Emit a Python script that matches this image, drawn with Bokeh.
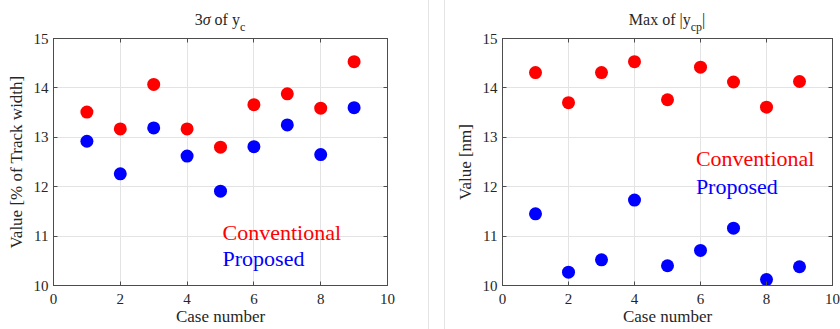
from bokeh.plotting import figure
from bokeh.models import Label, LinearAxis, Range1d, Div, FixedTicker, CustomLabelingPolicy
from bokeh.layouts import row, column
from bokeh.embed import file_html
from bokeh.resources import INLINE

cases = [1, 2, 3, 4, 5, 6, 7, 8, 9]
sigma_conventional = [13.51, 13.17, 14.07, 13.17, 12.80, 13.66, 13.88, 13.59, 14.53]
sigma_proposed = [12.92, 12.26, 13.19, 12.62, 11.91, 12.81, 13.25, 12.65, 13.60]
max_conventional = [14.31, 13.70, 14.31, 14.53, 13.76, 14.42, 14.12, 13.61, 14.13]
max_proposed = [11.45, 10.27, 10.52, 11.73, 10.40, 10.71, 11.16, 10.12, 10.38]
x_ticks = [0, 2, 4, 6, 8, 10]
y_ticks = [10, 11, 12, 13, 14, 15]

FONT = "Liberation Serif"
AX = "#4d4d4d"
TXT = "#262626"
RED = "#ff0000"
BLUE = "#0000ff"
TITLE_H = 28


def style_axis(ax):
    ax.major_tick_in = 4
    ax.major_tick_out = 0
    ax.minor_tick_line_color = None
    ax.axis_line_color = AX
    ax.major_tick_line_color = AX
    ax.major_label_text_font = FONT
    ax.major_label_text_color = TXT
    ax.major_label_text_font_size = "15px"
    ax.axis_label_text_font = FONT
    ax.axis_label_text_font_style = "normal"
    ax.axis_label_text_font_size = "17px"
    ax.axis_label_text_color = TXT


def make_fig(width, bl, br, ylabel):
    p = figure(width=width, height=329 - TITLE_H, x_range=Range1d(0, 10), y_range=Range1d(10, 15),
               min_border_left=bl, min_border_right=br, min_border_top=38 - TITLE_H, min_border_bottom=44,
               output_backend="svg", toolbar_location=None)
    p.xaxis.ticker = FixedTicker(ticks=x_ticks)
    p.yaxis.ticker = FixedTicker(ticks=y_ticks)
    p.xaxis.axis_label = "Case number"
    p.yaxis.axis_label = ylabel
    for ax in p.xaxis + p.yaxis:
        style_axis(ax)
    p.xaxis.major_label_standoff = 8
    p.yaxis.major_label_standoff = 5
    p.xaxis.axis_label_standoff = 0
    p.yaxis.axis_label_standoff = 5
    hide = CustomLabelingPolicy(code="const all = Array.from(indices); for (const i of all) { indices.unset(i) } return indices")
    top = LinearAxis(ticker=FixedTicker(ticks=x_ticks), major_label_policy=hide)
    style_axis(top)
    top.major_label_standoff = -30
    right = LinearAxis(ticker=FixedTicker(ticks=y_ticks), major_label_policy=hide)
    style_axis(right)
    right.major_label_standoff = -40
    p.add_layout(top, "above")
    p.add_layout(right, "right")
    p.xgrid.ticker = FixedTicker(ticks=x_ticks)
    p.ygrid.ticker = FixedTicker(ticks=y_ticks)
    p.xgrid.grid_line_color = "#e3e3e3"
    p.ygrid.grid_line_color = "#e3e3e3"
    p.outline_line_color = AX
    p.background_fill_color = "white"
    p.border_fill_color = None
    return p


def title_div(width, bl, br, html):
    style = ("font-family: 'Liberation Serif', serif; font-size: 16px; color: %s; text-align: center; "
             "line-height: 18px; padding-top: 11px; padding-left: %dpx; padding-right: %dpx; "
             "width: %dpx; box-sizing: border-box; white-space: nowrap; overflow: visible;" % (TXT, bl, br, width))
    return Div(text='<div style="%s">%s</div>' % (style, html), width=width, height=TITLE_H, margin=0,
               styles={"overflow": "visible"})


SUB = 'style="font-size: 12px; vertical-align: -6px; line-height: 0;"'

# Left chart
p1 = make_fig(428, 53, 41, "Value [% of Track width]")
p1.scatter(cases, sigma_conventional, size=13, fill_color=RED, line_color=None)
p1.scatter(cases, sigma_proposed, size=13, fill_color=BLUE, line_color=None)
p1.add_layout(Label(x=5.06, y=11.07, text="Conventional", text_baseline="alphabetic",
                    text_font=FONT, text_font_size="22px", text_color=RED))
p1.add_layout(Label(x=5.06, y=10.55, text="Proposed", text_baseline="alphabetic",
                    text_font=FONT, text_font_size="22px", text_color=BLUE))
t1 = title_div(428, 53, 41, '3<i>σ</i> of y<span %s>c</span>' % SUB)

# Right chart
p2 = make_fig(395, 57, 8, "Value [nm]")
p2.scatter(cases, max_conventional, size=13, fill_color=RED, line_color=None)
p2.scatter(cases, max_proposed, size=13, fill_color=BLUE, line_color=None)
p2.add_layout(Label(x=5.86, y=12.57, text="Conventional", text_baseline="alphabetic",
                    text_font=FONT, text_font_size="22px", text_color=RED))
p2.add_layout(Label(x=5.86, y=12.01, text="Proposed", text_baseline="alphabetic",
                    text_font=FONT, text_font_size="22px", text_color=BLUE))
t2 = title_div(395, 57, 8, 'Max of |y<span %s>cp</span>|' % SUB)

sep = Div(text="", width=17, height=329, margin=0,
          styles={"border-left": "1px solid #e4e4e4", "border-right": "1px solid #e4e4e4",
                  "box-sizing": "border-box", "height": "329px"})

layout = row(column(t1, p1, spacing=0), sep, column(t2, p2, spacing=0), spacing=0)
open("out.html", "w").write(file_html(layout, INLINE))
